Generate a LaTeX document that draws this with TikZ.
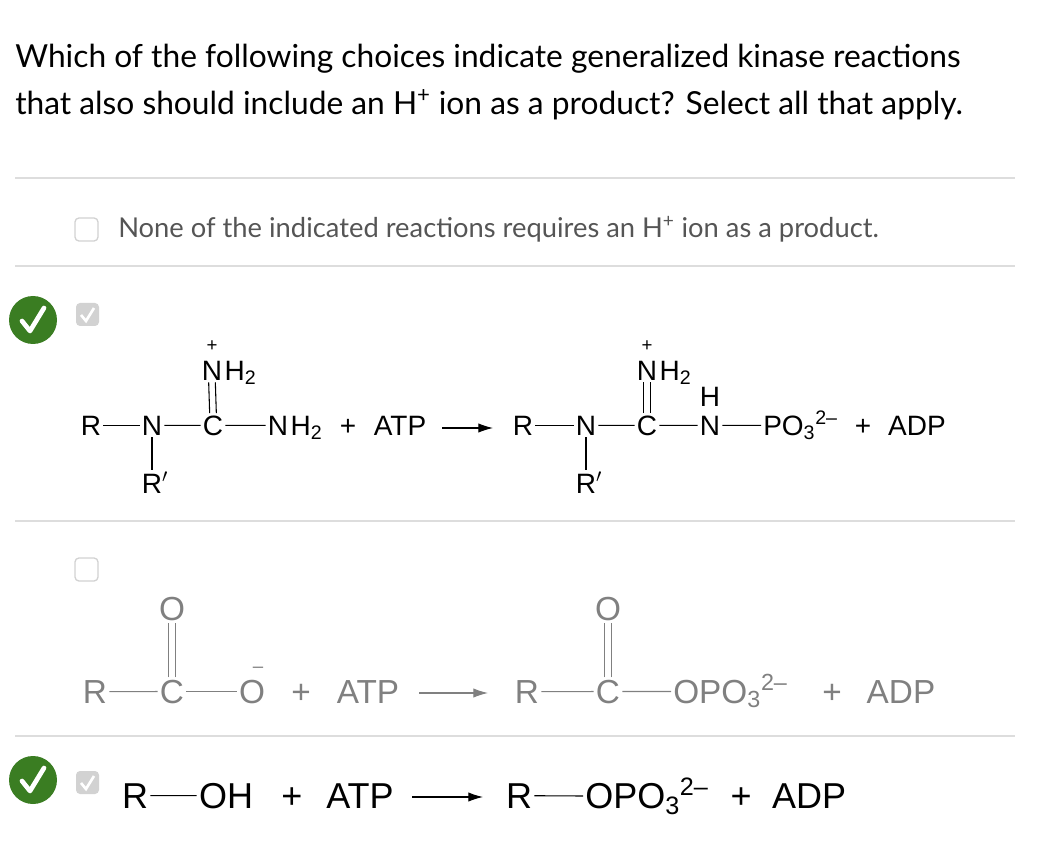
\documentclass[tikz,border=0pt]{standalone}
\usepackage{fontspec}
\setmainfont{Lato}
\newfontfamily\chem{Liberation Sans}
\usetikzlibrary{arrows.meta,positioning}
\definecolor{okgreen}{HTML}{3A7D22}
\definecolor{rulegray}{HTML}{DDDDDD}
\definecolor{boxgray}{HTML}{D2D2D2}
\definecolor{txtgray}{HTML}{555555}
\definecolor{chemgray}{HTML}{808080}
\begin{document}
\begin{tikzpicture}[x=0.75pt,y=-0.75pt,every node/.style={inner sep=1.5pt}]
\tikzset{atomA/.style={anchor=base,font=\chem\fontsize{21}{24}\selectfont},
  atomB/.style={anchor=base,font=\chem\fontsize{25}{28}\selectfont,text=chemgray},
  atomC/.style={anchor=base,font=\chem\fontsize{27}{31}\selectfont},
  bond/.style={line width=0.8pt},
  rxn/.style={-{Latex[length=11pt,width=7pt]},line width=0.8pt},
  sep/.style={rulegray,line width=1pt},
  tick/.style={okgreen,fill=okgreen},
  emptybox/.style={draw=boxgray,line width=1pt,rounded corners=3pt,fill=white},
  fullbox/.style={fill=boxgray,rounded corners=3pt}}
\useasboundingbox (0,0) rectangle (1044,862);
% question
\node (q1) [anchor=base west,font=\fontsize{23.8}{28}\selectfont,inner sep=0pt] at (15,68) {Which of the following choices indicate generalized kinase reactions};
\node (q2) [anchor=base west,font=\fontsize{23.8}{28}\selectfont,inner sep=0pt] at (15,115) {that also should include an H\textsuperscript{+} ion as a product? Select all that apply.};
\foreach \y in {178,266,521,736}
  \draw [sep] (15,\y) -- (1015,\y);
% option 1
\draw [emptybox] (75,218) rectangle (98,241);
\node (none) [anchor=base west,font=\fontsize{20.5}{24}\selectfont,text=txtgray] at (116,238) {None of the indicated reactions requires an H\textsuperscript{+} ion as a product.};
% option 2
\fill [tick] (33,320) circle (24);
\draw [white,line width=3.5pt,line cap=round,line join=round] (22,321) -- (30,331) -- (44,308);
\fill [fullbox] (76,303) rectangle (99,326);
\draw [white,line width=2pt] (81,315) -- (86,321) -- (94,308);
\node (aR) [atomA] at (91,435) {R};
\node (aN) [atomA] at (152,435) {N};
\node (aC) [atomA] at (213,435) {C};
\node (aN2) [atomA] at (278,435) {N};
\node (aH2) [atomA,anchor=base west,inner sep=0pt] at (aN2.base east) {H\textsubscript{2}};
\node (aNt) [atomA] at (212,380) {N};
\node (aHt) [atomA,anchor=base west,inner sep=0pt] at (aNt.base east) {H\textsubscript{2}};
\node (aplus) [atomA,font=\chem\fontsize{14}{16}\selectfont] at (212,352) {+};
\node (aRp) [atomA] at (155,493) {R$'$};
\draw [bond] (aR) -- (aN);
\draw [bond] (aN) -- (aC);
\draw [bond] (aC) -- (aN2);
\draw [bond] (aN.south) -- (aRp.north -| aN.south);
\draw [bond] ([xshift=-2.5pt]aC.north) -- ([xshift=-2.5pt]aNt.south);
\draw [bond] ([xshift=2.5pt]aC.north) -- ([xshift=2.5pt]aNt.south);
\node (aplus2) [atomA] at (348,435) {+};
\node (aATP) [atomA] at (400,435) {ATP};
\coordinate (aa1) at (442,428);
\coordinate (aa2) at (493,428);
\draw [rxn] (aa1) -- (aa2);
\node (bR) [atomA] at (523,435) {R};
\node (bN) [atomA] at (586,435) {N};
\node (bC) [atomA] at (647,435) {C};
\node (bN2) [atomA] at (710,435) {N};
\node (bH) [atomA] at (710,406) {H};
\node (bP) [atomA,anchor=base west] at (761,435) {PO\textsubscript{3}\textsuperscript{2–}};
\node (bNt) [atomA] at (647,380) {N};
\node (bHt) [atomA,anchor=base west,inner sep=0pt] at (bNt.base east) {H\textsubscript{2}};
\node (bplus) [atomA,font=\chem\fontsize{14}{16}\selectfont] at (647,352) {+};
\node (bRp) [atomA] at (589,493) {R$'$};
\draw [bond] (bR) -- (bN);
\draw [bond] (bN) -- (bC);
\draw [bond] (bC) -- (bN2);
\draw [bond] (bN2) -- (bP);
\draw [bond] (bN.south) -- (bRp.north -| bN.south);
\draw [bond] ([xshift=-2.5pt]bC.north) -- ([xshift=-2.5pt]bNt.south);
\draw [bond] ([xshift=2.5pt]bC.north) -- ([xshift=2.5pt]bNt.south);
\node (bplus2) [atomA] at (863,435) {+};
\node (bADP) [atomA] at (917,435) {ADP};
% option 3
\draw [emptybox] (75,558) rectangle (98,581);
\begin{scope}[chemgray]
\node (cR) [atomB] at (95,703) {R};
\node (cC) [atomB] at (172,703) {C};
\node (cO) [atomB] at (252,703) {O};
\node (cminus) [atomB,font=\chem\fontsize{14}{16}\selectfont] at (258,672) {–};
\node (cOt) [atomB] at (172,620) {O};
\draw [bond] (cR) -- (cC);
\draw [bond] (cC) -- (cO);
\draw [bond] ([xshift=-2.5pt]cC.north) -- ([xshift=-2.5pt]cOt.south);
\draw [bond] ([xshift=2.5pt]cC.north) -- ([xshift=2.5pt]cOt.south);
\node (cplus) [atomB] at (301,703) {+};
\node (cATP) [atomB] at (368,703) {ATP};
\coordinate (ca1) at (419,693);
\coordinate (ca2) at (488,693);
\draw [rxn] (ca1) -- (ca2);
\node (dR) [atomB] at (527,703) {R};
\node (dC) [atomB] at (608,703) {C};
\node (dP) [atomB,anchor=base west] at (671,703) {OPO\textsubscript{3}\textsuperscript{2–}};
\node (dOt) [atomB] at (608,620) {O};
\draw [bond] (dR) -- (dC);
\draw [bond] (dC) -- (dP);
\draw [bond] ([xshift=-2.5pt]dC.north) -- ([xshift=-2.5pt]dOt.south);
\draw [bond] ([xshift=2.5pt]dC.north) -- ([xshift=2.5pt]dOt.south);
\node (dplus) [atomB] at (832,703) {+};
\node (dADP) [atomB] at (901,703) {ADP};
\end{scope}
% option 4
\fill [tick] (33,780) circle (24);
\draw [white,line width=3.5pt,line cap=round,line join=round] (22,781) -- (30,791) -- (44,768);
\fill [fullbox] (76,771) rectangle (99,794);
\draw [white,line width=2pt] (81,783) -- (86,789) -- (94,776);
\node (eR) [atomC] at (135,808) {R};
\node (eOH) [atomC] at (226,808) {OH};
\draw [bond] (eR) -- (eOH);
\node (eplus) [atomC] at (292,808) {+};
\node (eATP) [atomC] at (360,808) {ATP};
\coordinate (ea1) at (412,797);
\coordinate (ea2) at (483,797);
\draw [rxn] (ea1) -- (ea2);
\node (fR) [atomC] at (519,808) {R};
\node (fP) [atomC,anchor=base west] at (583,808) {OPO\textsubscript{3}\textsuperscript{2–}};
\draw [bond] (fR) -- (fP);
\node (fplus) [atomC] at (741,808) {+};
\node (fADP) [atomC] at (809,808) {ADP};
\end{tikzpicture}
\end{document}
